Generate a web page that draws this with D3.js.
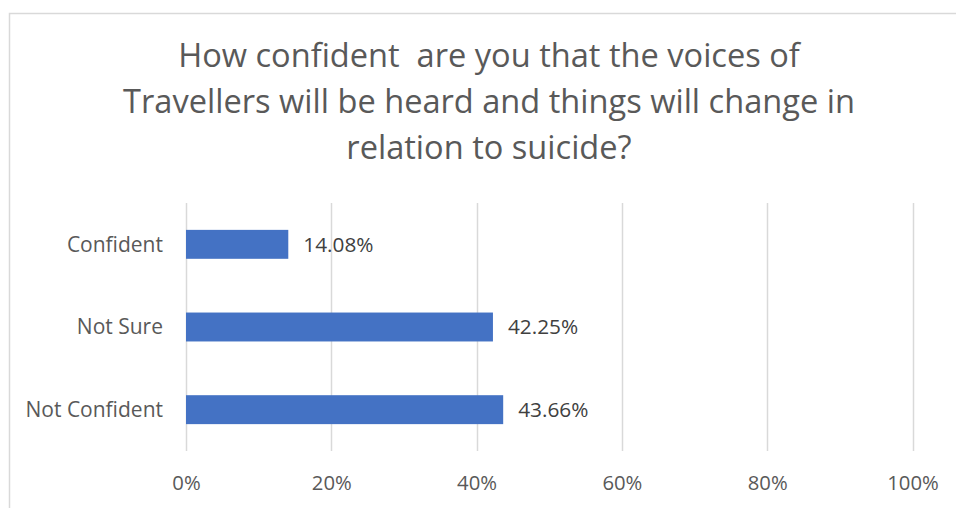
<!DOCTYPE html>
<html>
<head>
<meta charset="utf-8">
<script src="https://cdn.jsdelivr.net/npm/d3@7"></script>
<style>
  html, body { margin: 0; padding: 0; background: #fff; }
  svg { display: block; }
  text { font-family: "Open Sans", "Liberation Sans", sans-serif; }
</style>
</head>
<body>
<svg id="chart" width="956" height="508"></svg>
<script>
// Survey responses (share of respondents)
const categories = ["Confident", "Not Sure", "Not Confident"];
const values = [14.08, 42.25, 43.66];
const valueLabels = ["14.08%", "42.25%", "43.66%"];
const tickValues = [0, 20, 40, 60, 80, 100];
const titleLines = [
  "How confident  are you that the voices of",
  "Travellers will be heard and things will change in",
  "relation to suicide?"
];

const W = 956, H = 508;
const svg = d3.select("#chart");

// Chart frame
svg.append("rect")
  .attr("x", 9.5).attr("y", 13.5)
  .attr("width", W + 10).attr("height", H + 10)
  .attr("fill", "#fff")
  .attr("stroke", "#d9d9d9")
  .attr("stroke-width", 1.5);

// Title
svg.append("g")
  .selectAll("text")
  .data(titleLines)
  .join("text")
  .attr("x", 489)
  .attr("y", (d, i) => 67 + i * 46)
  .attr("text-anchor", "middle")
  .attr("fill", "#595959")
  .attr("font-size", 32.6)
  .style("white-space", "pre")
  .attr("xml:space", "preserve")
  .text(d => d);

// Plot area
const plot = { left: 186, right: 912.5, top: 203, bottom: 451 };

const x = d3.scaleLinear().domain([0, 100]).range([plot.left, plot.right]);
const y = d3.scaleBand()
  .domain(categories)
  .range([plot.top, plot.bottom])
  .paddingInner(0.65)
  .paddingOuter(0.325);

// Vertical gridlines
svg.append("g")
  .selectAll("line")
  .data(tickValues)
  .join("line")
  .attr("x1", d => Math.round(x(d)) + 0.5)
  .attr("x2", d => Math.round(x(d)) + 0.5)
  .attr("y1", plot.top)
  .attr("y2", plot.bottom)
  .attr("stroke", "#d9d9d9")
  .attr("stroke-width", 1.5);

// X axis tick labels
const xAxis = d3.axisBottom(x)
  .tickValues(tickValues)
  .tickFormat(d => d + "%")
  .tickSize(0)
  .tickPadding(0);

const gx = svg.append("g")
  .attr("transform", `translate(0,${plot.bottom})`)
  .call(xAxis);
gx.select(".domain").remove();
gx.selectAll("text")
  .attr("y", 39)
  .attr("dy", 0)
  .attr("fill", "#595959")
  .attr("font-size", 20.3)
  .attr("font-family", "'Open Sans', sans-serif");

// Y axis category labels
const yAxis = d3.axisLeft(y).tickSize(0).tickPadding(0);
const gy = svg.append("g")
  .attr("transform", `translate(163,0)`)
  .call(yAxis);
gy.select(".domain").remove();
gy.selectAll("text")
  .attr("x", 0)
  .attr("dy", "0.35em")
  .attr("fill", "#595959")
  .attr("font-size", 21)
  .attr("font-family", "'Open Sans', sans-serif");

// Bars
svg.append("g")
  .selectAll("rect")
  .data(categories)
  .join("rect")
  .attr("x", x(0))
  .attr("y", d => y(d))
  .attr("width", (d, i) => x(values[i]) - x(0))
  .attr("height", y.bandwidth())
  .attr("fill", "#4472c4");

// Value labels
svg.append("g")
  .selectAll("text")
  .data(categories)
  .join("text")
  .attr("x", (d, i) => x(values[i]) + 15)
  .attr("y", d => y(d) + y.bandwidth() / 2)
  .attr("dy", "0.35em")
  .attr("fill", "#404040")
  .attr("font-size", 20.8)
  .text((d, i) => valueLabels[i]);
</script>
</body>
</html>
